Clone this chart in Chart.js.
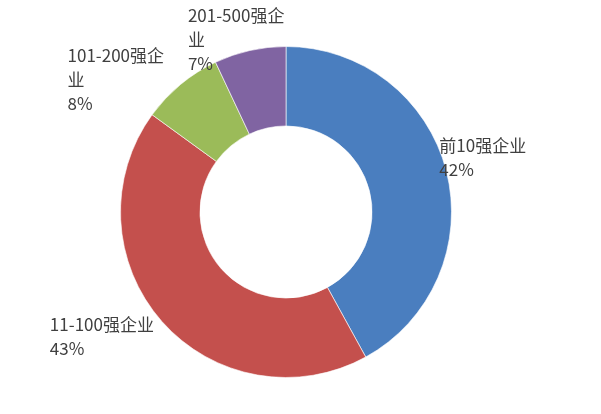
<!DOCTYPE html>
<html>
<head>
<meta charset="utf-8">
<script src="https://cdn.jsdelivr.net/npm/chart.js@4/dist/chart.umd.min.js"></script>
<style>
  html, body { margin: 0; padding: 0; background: #ffffff; }
  #wrap { width: 601px; height: 414px; }
</style>
</head>
<body>
<div id="wrap"><canvas id="c" width="601" height="414"></canvas></div>
<script>
// Data
const categories = ['前10强企业', '11-100强企业', '101-200强企业', '201-500强企业'];
const shares = [42, 43, 8, 7];
// Label lines as displayed (wrapped like the original)
const labelLines = [
  ['前10强企业', '42%'],
  ['11-100强企业', '43%'],
  ['101-200强企', '业', '8%'],
  ['201-500强企', '业', '7%']
];

// Styles
const colors = ['#4a7ebf', '#c4504d', '#9bbb59', '#8064a2'];
// offset of the first label line from the slice's outer mid-point
const labelOffsets = [[-7, -25], [-112, 3], [-113, -29], [-62, -35]];

const labelPlugin = {
  id: 'outerLabels',
  afterDatasetsDraw(chart) {
    const ctx = chart.ctx;
    const meta = chart.getDatasetMeta(0);
    ctx.save();
    ctx.font = '17px "Noto Sans CJK SC", "Noto Sans", sans-serif';
    ctx.fillStyle = '#404040';
    ctx.textAlign = 'left';
    ctx.textBaseline = 'middle';
    meta.data.forEach((arc, i) => {
      const p = arc.getProps(['x', 'y', 'startAngle', 'endAngle', 'outerRadius'], true);
      const mid = (p.startAngle + p.endAngle) / 2;
      const ax = p.x + Math.cos(mid) * p.outerRadius;
      const ay = p.y + Math.sin(mid) * p.outerRadius;
      const [dx, dy] = labelOffsets[i];
      labelLines[i].forEach((t, k) => {
        ctx.fillText(t, ax + dx, ay + dy + k * 24);
      });
    });
    ctx.restore();
  }
};

new Chart(document.getElementById('c'), {
  type: 'doughnut',
  data: {
    labels: categories,
    datasets: [{
      data: shares,
      backgroundColor: colors,
      borderColor: 'rgba(255,255,255,0.6)',
      borderWidth: 1
    }]
  },
  options: {
    responsive: false,
    animation: false,
    cutout: '52%',
    layout: { padding: { left: 120, right: 149, top: 46, bottom: 36 } },
    plugins: {
      legend: { display: false },
      tooltip: { enabled: false }
    }
  },
  plugins: [labelPlugin]
});
</script>
</body>
</html>
